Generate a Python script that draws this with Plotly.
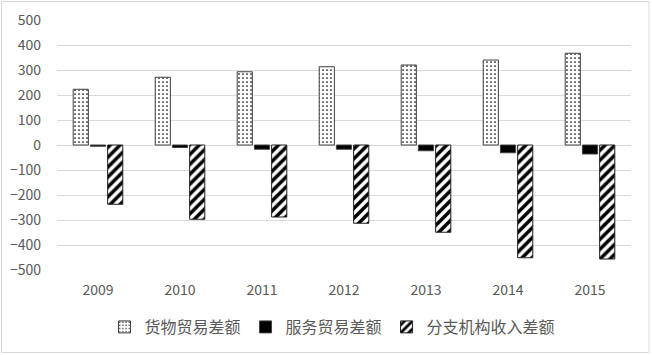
import plotly.graph_objects as go

years = ["2009", "2010", "2011", "2012", "2013", "2014", "2015"]
goods = [223, 271, 293, 313, 320, 340, 367]
services = [-5, -10, -17, -17, -23, -31, -36]
branch = [-237, -297, -288, -313, -349, -451, -456]
names = ["货物贸易差额", "服务贸易差额", "分支机构收入差额"]

W, H = 652, 355
ml, mr, mt, mb = 57, 21, 20, 85
pw, ph = W - ml - mr, H - mt - mb

fig = go.Figure()
fig.add_trace(go.Bar(
    x=years, y=goods, name=names[0],
    marker=dict(color="white",
                line=dict(color="#404040", width=1),
                pattern=dict(shape=".", fgcolor="black", bgcolor="white",
                             size=4, solidity=0.15, fgopacity=1, fillmode="replace")),
))
fig.add_trace(go.Bar(
    x=years, y=services, name=names[1],
    marker=dict(color="black", line=dict(color="#404040", width=1)),
))
fig.add_trace(go.Bar(
    x=years, y=branch, name=names[2],
    marker=dict(color="white",
                line=dict(color="#202020", width=1),
                pattern=dict(shape="/", fgcolor="black", bgcolor="white",
                             size=7, solidity=0.5, fgopacity=1, fillmode="replace")),
))

font_family = "Noto Sans CJK SC, Noto Sans, sans-serif"

fig.update_layout(
    width=W, height=H,
    margin=dict(l=ml, r=mr, t=mt, b=mb, autoexpand=False),
    paper_bgcolor="white", plot_bgcolor="white",
    barmode="group", bargap=0.37, bargroupgap=0.12,
    font=dict(family=font_family, color="#595959", size=14),
    showlegend=True,
    legend=dict(orientation="h", xref="container", x=0.51, xanchor="center",
                y=-0.16, yanchor="top",
                font=dict(size=16, color="#595959"),
                itemwidth=30, traceorder="normal"),
    xaxis=dict(showgrid=False, showline=False, zeroline=False, automargin=False,
               ticks="", ticklabelstandoff=10, tickfont=dict(size=14)),
    yaxis=dict(range=[-500, 500], dtick=100, showgrid=True, automargin=False,
               gridcolor="#d9d9d9", gridwidth=1, zeroline=True,
               zerolinecolor="#d9d9d9", zerolinewidth=1,
               showline=False, ticks="", ticklabelstandoff=15,
               tickfont=dict(size=14)),
    shapes=[dict(type="rect", xref="paper", yref="paper",
                 x0=(1.5 - ml) / pw, x1=(649 - ml) / pw,
                 y0=(H - mb - 352.5) / ph, y1=(H - mb - 1.5) / ph,
                 line=dict(color="#d9d9d9", width=1), fillcolor="rgba(0,0,0,0)",
                 layer="below")],
)

fig.write_html("out.html", config={"displayModeBar": False},
               post_script="document.body.style.margin='0';document.body.style.overflow='hidden';")
